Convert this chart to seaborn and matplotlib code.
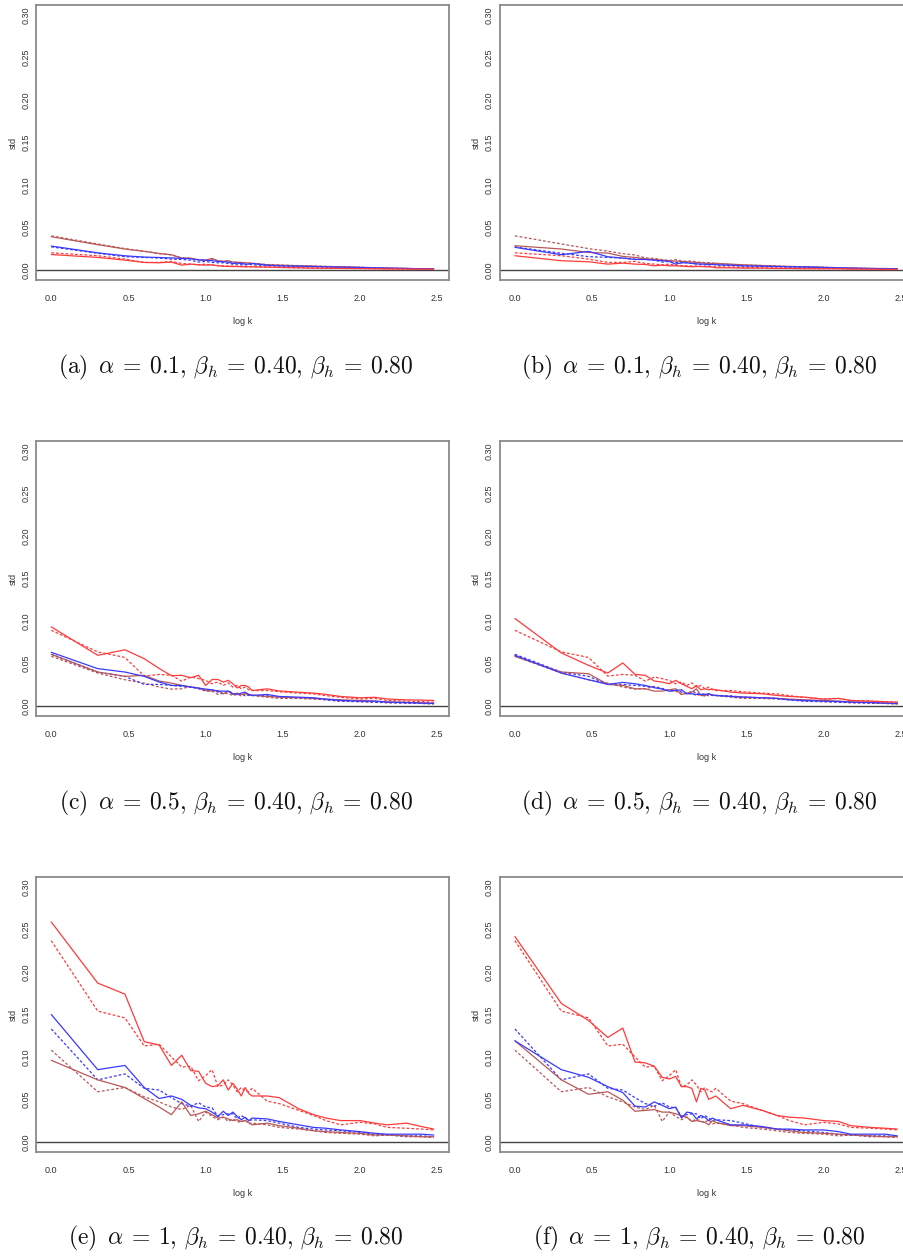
import numpy as np
import pandas as pd
import seaborn as sns
import matplotlib
matplotlib.use("Agg")
import matplotlib.pyplot as plt

# k values used on the x axis (plotted as log10 k)
k_values = list(range(1, 21)) + [25, 30, 40, 50, 60, 75, 100, 125, 150, 200, 250, 300]

captions = [
    r"$\mathrm{(a)}\ \,\alpha \:=\: 0.1,\, \beta_h \:=\: 0.40,\, \beta_h \:=\: 0.80$",
    r"$\mathrm{(b)}\ \,\alpha \:=\: 0.1,\, \beta_h \:=\: 0.40,\, \beta_h \:=\: 0.80$",
    r"$\mathrm{(c)}\ \,\alpha \:=\: 0.5,\, \beta_h \:=\: 0.40,\, \beta_h \:=\: 0.80$",
    r"$\mathrm{(d)}\ \,\alpha \:=\: 0.5,\, \beta_h \:=\: 0.40,\, \beta_h \:=\: 0.80$",
    r"$\mathrm{(e)}\ \,\alpha \:=\: 1,\, \beta_h \:=\: 0.40,\, \beta_h \:=\: 0.80$",
    r"$\mathrm{(f)}\ \,\alpha \:=\: 1,\, \beta_h \:=\: 0.40,\, \beta_h \:=\: 0.80$",
]

# ---- row 1 (alpha = 0.1) ----
red_dash_r1 = [0.020, 0.0166, 0.0126, 0.0087, 0.0087, 0.0099, 0.0075, 0.0067, 0.0059, 0.0067, 0.0055, 0.005,
               0.0047, 0.0045, 0.0043, 0.0043, 0.004, 0.0038, 0.0036, 0.0036, 0.0032, 0.0028, 0.0024, 0.0022,
               0.002, 0.0018, 0.0016, 0.0014, 0.0012, 0.001, 0.0009, 0.0008]
blue_dash_r1 = [0.027, 0.0195, 0.0155, 0.0146, 0.0138, 0.0126, 0.0122, 0.0114, 0.0091, 0.0099, 0.0087, 0.0083,
                0.0083, 0.0075, 0.0067, 0.0067, 0.0059, 0.0055, 0.0067, 0.0059, 0.005, 0.0045, 0.004, 0.0036,
                0.0032, 0.0028, 0.0024, 0.002, 0.0016, 0.0014, 0.0012, 0.001]
brown_dash_r1 = [0.040, 0.0305, 0.025, 0.022, 0.019, 0.0175, 0.014, 0.0135, 0.012, 0.011, 0.012, 0.0105,
                 0.010, 0.0105, 0.009, 0.009, 0.0085, 0.0085, 0.008, 0.0078, 0.0062, 0.0056, 0.005, 0.0045,
                 0.004, 0.0036, 0.003, 0.0025, 0.002, 0.0016, 0.0013, 0.0011]
red_a = [0.018, 0.0146, 0.0114, 0.0087, 0.0083, 0.0091, 0.0055, 0.0067, 0.0059, 0.0055, 0.0059, 0.0047,
         0.0043, 0.0039, 0.0039, 0.0039, 0.0036, 0.0036, 0.0036, 0.0036, 0.0032, 0.0028, 0.0024, 0.002,
         0.0018, 0.0016, 0.0014, 0.0012, 0.001, 0.0009, 0.0008, 0.0008]
blue_a = [0.028, 0.020, 0.0165, 0.015, 0.0145, 0.014, 0.0135, 0.013, 0.0118, 0.0114, 0.0107, 0.0099,
          0.0095, 0.0091, 0.0075, 0.0079, 0.0075, 0.0067, 0.0067, 0.0075, 0.0055, 0.0047, 0.0043, 0.0039,
          0.0036, 0.0032, 0.0028, 0.0024, 0.002, 0.0016, 0.0012, 0.0012]
brown_a = [0.039, 0.0296, 0.0245, 0.0217, 0.0193, 0.0178, 0.0138, 0.0138, 0.0114, 0.0114, 0.0134, 0.0107,
           0.0099, 0.0107, 0.0091, 0.0087, 0.0087, 0.0083, 0.0079, 0.0075, 0.0059, 0.0055, 0.0047, 0.0043,
           0.0039, 0.0036, 0.0028, 0.0024, 0.002, 0.0016, 0.0012, 0.0012]
red_b = [0.0166, 0.0107, 0.0095, 0.0067, 0.0079, 0.0067, 0.0063, 0.0047, 0.0055, 0.0047, 0.0047, 0.0043,
         0.0039, 0.0036, 0.0039, 0.0039, 0.0036, 0.0036, 0.0032, 0.0024, 0.0024, 0.002, 0.002, 0.0016,
         0.0016, 0.0012, 0.0012, 0.0012, 0.0008, 0.0008, 0.0004, 0.0004]
blue_b = [0.0265, 0.0178, 0.0217, 0.0154, 0.0138, 0.0122, 0.0122, 0.0114, 0.0107, 0.0099, 0.0067, 0.0083,
          0.0083, 0.0075, 0.0071, 0.0067, 0.0067, 0.0063, 0.0063, 0.0059, 0.0055, 0.0047, 0.0043, 0.0039,
          0.0036, 0.0036, 0.0028, 0.0024, 0.002, 0.0016, 0.0012, 0.0012]
brown_b = [0.0284, 0.0245, 0.0205, 0.0197, 0.0158, 0.0146, 0.013, 0.0122, 0.0114, 0.0107, 0.0103, 0.0099,
           0.0095, 0.0091, 0.0087, 0.0083, 0.0079, 0.0075, 0.0075, 0.0075, 0.0067, 0.0059, 0.0051, 0.0043,
           0.0039, 0.0036, 0.0028, 0.0024, 0.002, 0.0016, 0.0016, 0.0012]

# ---- row 2 (alpha = 0.5) ----
red_dash_r2 = [0.089, 0.0635, 0.057, 0.035, 0.037, 0.036, 0.029, 0.034, 0.032, 0.030, 0.026, 0.028,
               0.024, 0.027, 0.022, 0.024, 0.020, 0.022, 0.019, 0.018, 0.018, 0.0165, 0.015, 0.014,
               0.012, 0.010, 0.008, 0.0087, 0.0063, 0.0055, 0.005, 0.0043]
blue_dash_r2 = [0.0607, 0.0398, 0.0347, 0.0252, 0.0252, 0.024, 0.0229, 0.0221, 0.0201, 0.0181, 0.0189, 0.0162,
                0.0142, 0.0173, 0.015, 0.0134, 0.0142, 0.0118, 0.0126, 0.0122, 0.0118, 0.0102, 0.0095, 0.0087,
                0.0071, 0.0055, 0.0051, 0.0043, 0.0039, 0.0032, 0.0028, 0.0024]
brown_dash_r2 = [0.0583, 0.0386, 0.0307, 0.0268, 0.0221, 0.0197, 0.0201, 0.0229, 0.0205, 0.0173, 0.0173, 0.0134,
                 0.015, 0.0142, 0.0122, 0.0134, 0.0118, 0.0142, 0.0122, 0.0122, 0.0102, 0.0087, 0.0087, 0.0079,
                 0.0071, 0.0055, 0.0047, 0.0043, 0.0035, 0.0032, 0.0028, 0.0024]
red_c = [0.093, 0.0595, 0.066, 0.0555, 0.044, 0.0355, 0.036, 0.033, 0.036, 0.024, 0.031, 0.031,
         0.028, 0.030, 0.026, 0.021, 0.024, 0.024, 0.022, 0.018, 0.020, 0.0175, 0.016, 0.015,
         0.0135, 0.011, 0.0095, 0.010, 0.008, 0.007, 0.0067, 0.0063]
blue_c = [0.063, 0.0438, 0.0398, 0.0347, 0.028, 0.024, 0.024, 0.0221, 0.0209, 0.0197, 0.0189, 0.0173,
          0.0173, 0.0173, 0.0142, 0.0134, 0.015, 0.0162, 0.0134, 0.0122, 0.0134, 0.011, 0.0102, 0.0095,
          0.0079, 0.0063, 0.0055, 0.0055, 0.0043, 0.0039, 0.0032, 0.0028]
brown_c = [0.0607, 0.0398, 0.0347, 0.0359, 0.0292, 0.0268, 0.024, 0.0221, 0.0209, 0.0181, 0.0173, 0.0181,
           0.0142, 0.0173, 0.0134, 0.015, 0.0134, 0.0142, 0.0134, 0.0126, 0.011, 0.0102, 0.0095, 0.0087,
           0.0079, 0.0071, 0.0063, 0.0055, 0.0047, 0.0039, 0.0035, 0.0032]
red_d = [0.1029, 0.0623, 0.0477, 0.0386, 0.0505, 0.0371, 0.0359, 0.0292, 0.028, 0.026, 0.03, 0.026,
         0.0229, 0.0201, 0.024, 0.0189, 0.0201, 0.0189, 0.0197, 0.0189, 0.0162, 0.015, 0.0142, 0.0122,
         0.011, 0.0102, 0.0079, 0.0087, 0.0063, 0.0055, 0.0047, 0.0043]
blue_d = [0.0595, 0.0386, 0.0307, 0.0252, 0.0276, 0.026, 0.024, 0.0213, 0.0197, 0.0173, 0.0181, 0.0189,
          0.0142, 0.0142, 0.0134, 0.0134, 0.0134, 0.0142, 0.0126, 0.0122, 0.011, 0.0102, 0.0095, 0.0087,
          0.0071, 0.0063, 0.0055, 0.0051, 0.0043, 0.0039, 0.0032, 0.0028]
brown_d = [0.0583, 0.0398, 0.0378, 0.0252, 0.024, 0.0201, 0.0201, 0.0173, 0.0173, 0.0189, 0.0201, 0.0134,
           0.015, 0.0162, 0.0201, 0.0122, 0.0118, 0.0142, 0.0122, 0.0122, 0.011, 0.0102, 0.0095, 0.0087,
           0.0079, 0.0071, 0.0063, 0.0055, 0.0047, 0.0039, 0.0032, 0.0024]

# ---- row 3 (alpha = 1) ----
red_dash_r3 = [0.237, 0.154, 0.146, 0.113, 0.115, 0.100, 0.088, 0.089, 0.072, 0.078, 0.085, 0.065,
               0.067, 0.073, 0.067, 0.059, 0.064, 0.060, 0.059, 0.063, 0.048, 0.045, 0.037, 0.031,
               0.025, 0.020, 0.023, 0.021, 0.017, 0.016, 0.015, 0.014]
blue_dash_r3 = [0.133, 0.073, 0.080, 0.063, 0.061, 0.052, 0.045, 0.042, 0.046, 0.041, 0.040, 0.030,
                0.032, 0.033, 0.033, 0.027, 0.031, 0.028, 0.025, 0.026, 0.025, 0.022, 0.017, 0.015,
                0.014, 0.013, 0.011, 0.009, 0.008, 0.007, 0.007, 0.006]
brown_dash_r3 = [0.108, 0.059, 0.064, 0.053, 0.047, 0.041, 0.038, 0.043, 0.024, 0.035, 0.030, 0.026,
                 0.029, 0.024, 0.027, 0.024, 0.023, 0.026, 0.021, 0.022, 0.020, 0.017, 0.015, 0.013,
                 0.011, 0.010, 0.009, 0.007, 0.008, 0.006, 0.006, 0.005]
red_e = [0.259, 0.187, 0.174, 0.118, 0.114, 0.090, 0.102, 0.084, 0.083, 0.069, 0.065, 0.066,
         0.073, 0.061, 0.069, 0.062, 0.054, 0.064, 0.057, 0.054, 0.054, 0.052, 0.039, 0.032,
         0.028, 0.025, 0.025, 0.022, 0.020, 0.022, 0.018, 0.015]
blue_e = [0.150, 0.085, 0.090, 0.064, 0.051, 0.054, 0.050, 0.043, 0.040, 0.039, 0.035, 0.030,
          0.036, 0.031, 0.035, 0.030, 0.026, 0.029, 0.025, 0.028, 0.027, 0.024, 0.020, 0.017,
          0.016, 0.014, 0.012, 0.010, 0.009, 0.009, 0.009, 0.008]
brown_e = [0.096, 0.073, 0.064, 0.051, 0.041, 0.032, 0.047, 0.031, 0.033, 0.036, 0.032, 0.028,
           0.029, 0.027, 0.025, 0.026, 0.024, 0.025, 0.023, 0.020, 0.022, 0.019, 0.016, 0.013,
           0.012, 0.011, 0.010, 0.008, 0.008, 0.007, 0.006, 0.006]
red_f = [0.242, 0.163, 0.143, 0.123, 0.134, 0.094, 0.093, 0.089, 0.076, 0.074, 0.077, 0.065,
         0.065, 0.063, 0.047, 0.063, 0.061, 0.050, 0.052, 0.054, 0.039, 0.043, 0.037, 0.031,
         0.029, 0.028, 0.025, 0.024, 0.019, 0.017, 0.016, 0.015]
blue_f = [0.119, 0.085, 0.076, 0.065, 0.058, 0.042, 0.041, 0.047, 0.043, 0.039, 0.041, 0.028,
          0.035, 0.034, 0.027, 0.031, 0.029, 0.025, 0.028, 0.026, 0.020, 0.020, 0.018, 0.015,
          0.015, 0.014, 0.014, 0.012, 0.009, 0.009, 0.009, 0.007]
brown_f = [0.119, 0.073, 0.056, 0.059, 0.049, 0.036, 0.037, 0.038, 0.035, 0.035, 0.033, 0.031,
           0.029, 0.024, 0.025, 0.024, 0.023, 0.020, 0.025, 0.023, 0.019, 0.019, 0.017, 0.015,
           0.013, 0.011, 0.010, 0.009, 0.008, 0.007, 0.006, 0.006]

panels = [
    (red_a, blue_a, brown_a, red_dash_r1, blue_dash_r1, brown_dash_r1),
    (red_b, blue_b, brown_b, red_dash_r1, blue_dash_r1, brown_dash_r1),
    (red_c, blue_c, brown_c, red_dash_r2, blue_dash_r2, brown_dash_r2),
    (red_d, blue_d, brown_d, red_dash_r2, blue_dash_r2, brown_dash_r2),
    (red_e, blue_e, brown_e, red_dash_r3, blue_dash_r3, brown_dash_r3),
    (red_f, blue_f, brown_f, red_dash_r3, blue_dash_r3, brown_dash_r3),
]

RED = "#ff3a3a"
BLUE = "#3a3aff"
BROWN = "#b85858"
DASH = (0, (2.2, 1.6))

sns.set_style("white")
plt.rcParams["font.family"] = ["Liberation Sans Narrow", "Liberation Sans", "DejaVu Sans"]
plt.rcParams["mathtext.fontset"] = "cm"

logk = np.log10(k_values)

fig = plt.figure(figsize=(9.04, 12.56), dpi=100)
W, H = 904.0, 1256.0
box_w, box_h = 413.0, 275.0
lefts = [36.0, 499.6]
tops = [5.0, 441.0, 877.0]
cap_x = [236.0, 699.0]
cap_y = [367.0, 803.0, 1238.0]

for i, series in enumerate(panels):
    row, col = divmod(i, 2)
    ax = fig.add_axes([lefts[col] / W, 1 - (tops[row] + box_h) / H, box_w / W, box_h / H])
    red, blue, brown, red_d_, blue_d_, brown_d_ = series
    df = pd.DataFrame({"logk": logk, "red": red, "blue": blue, "brown": brown,
                       "red_d": red_d_, "blue_d": blue_d_, "brown_d": brown_d_})

    ax.axhline(0, color="#444444", lw=1.0, zorder=1)
    for name, color in [("brown_d", BROWN), ("blue_d", BLUE), ("red_d", RED)]:
        sns.lineplot(data=df, x="logk", y=name, ax=ax, color=color, lw=0.9, linestyle=DASH)
    for name, color in [("brown", BROWN), ("blue", BLUE), ("red", RED)]:
        sns.lineplot(data=df, x="logk", y=name, ax=ax, color=color, lw=0.9)

    ax.set_xlim(-0.099, 2.576)
    ax.set_ylim(-0.012, 0.312)
    ax.set_xticks([0.0, 0.5, 1.0, 1.5, 2.0, 2.5])
    ax.set_xticklabels(["0.0", "0.5", "1.0", "1.5", "2.0", "2.5"])
    ax.set_yticks([0.0, 0.05, 0.10, 0.15, 0.20, 0.25, 0.30])
    ax.set_yticklabels(["0.00", "0.05", "0.10", "0.15", "0.20", "0.25", "0.30"],
                       rotation=90, va="center")
    ax.tick_params(axis="both", direction="out", width=0.8, color="#777777",
                   labelsize=6.5, labelcolor="#333333")
    ax.tick_params(axis="x", length=4, pad=6)
    ax.tick_params(axis="y", length=3, pad=1)
    for sp in ax.spines.values():
        sp.set_color("#8a8a8a")
        sp.set_linewidth(1.3)
    ax.set_xlabel("log k", fontsize=6.5, color="#333333", labelpad=10)
    ax.set_ylabel("std", fontsize=6.5, color="#333333")
    ax.yaxis.set_label_coords(-0.045, 0.5)

    fig.text(cap_x[col] / W, 1 - cap_y[row] / H, captions[i], ha="center", va="center",
             fontsize=17, color="#111111")

fig.savefig("out.png", dpi=100)
